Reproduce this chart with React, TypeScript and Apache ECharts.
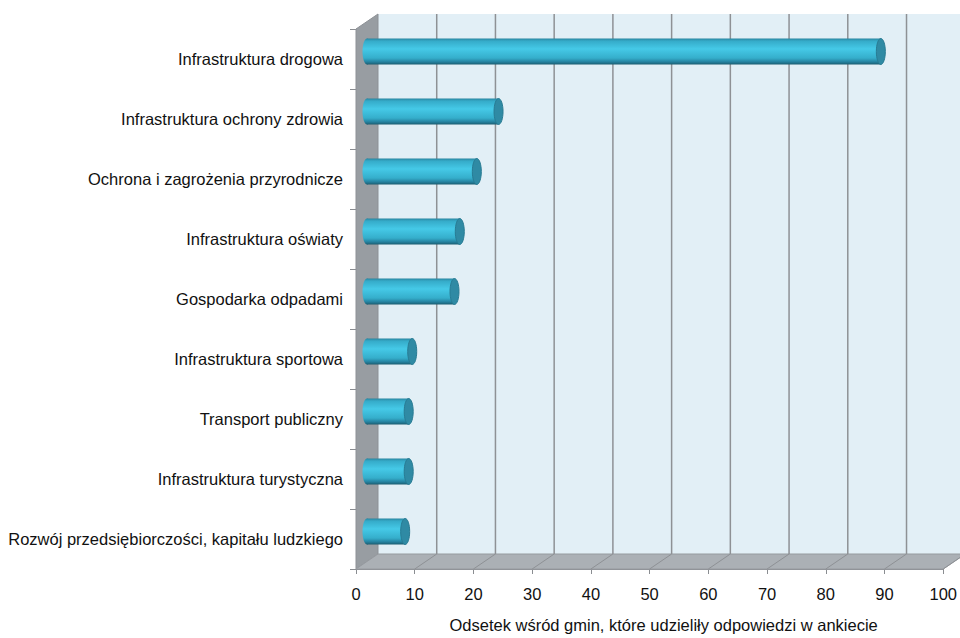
import React, { useEffect, useRef } from "react";
import * as echarts from "echarts";

const categories = [
  "Infrastruktura drogowa",
  "Infrastruktura ochrony zdrowia",
  "Ochrona i zagrożenia przyrodnicze",
  "Infrastruktura oświaty",
  "Gospodarka odpadami",
  "Infrastruktura sportowa",
  "Transport publiczny",
  "Infrastruktura turystyczna",
  "Rozwój przedsiębiorczości, kapitału ludzkiego",
];
const values = [87.5, 22.4, 18.7, 15.8, 14.9, 7.7, 7.1, 7.1, 6.5];
const xTicks = [0, 10, 20, 30, 40, 50, 60, 70, 80, 90, 100];
const axisTitle = "Odsetek wśród gmin, które udzieliły odpowiedzi w ankiecie";

const DX = 22;
const DY = -15;

export default function App() {
  const ref = useRef<HTMLDivElement>(null);
  useEffect(() => {
    if (!ref.current) return;
    const chart = echarts.init(ref.current, undefined, { renderer: "svg" });
    const font = "'Liberation Sans', Arial, sans-serif";

    const frameItem = (params: any, api: any) => {
      const cs = params.coordSys;
      const x0 = cs.x;
      const y0 = cs.y;
      const x1 = cs.x + cs.width;
      const y1 = cs.y + cs.height;
      const children: any[] = [];
      children.push({
        type: "rect",
        shape: { x: x0 + DX, y: y0 + DY, width: cs.width, height: cs.height },
        style: { fill: "#e2eff6", stroke: null },
      });
      children.push({
        type: "polygon",
        shape: { points: [[x0, y0], [x0 + DX, y0 + DY], [x0 + DX, y1 + DY], [x0, y1]] },
        style: { fill: "#989da2", stroke: "#8d9196", lineWidth: 1 },
      });
      children.push({
        type: "polygon",
        shape: { points: [[x0, y1], [x0 + DX, y1 + DY], [x1 + DX, y1 + DY], [x1, y1]] },
        style: { fill: "#abb0b5", stroke: "#969a9f", lineWidth: 1 },
      });
      xTicks.forEach((v) => {
        if (v === 0) return;
        const px = api.coord([v, 0])[0];
        if (v < 100) {
          children.push({
            type: "line",
            shape: { x1: px + DX, y1: y0 + DY, x2: px + DX, y2: y1 + DY },
            style: { stroke: "#8e9195", lineWidth: 1.5 },
          });
        }
        children.push({
          type: "line",
          shape: { x1: px, y1: y1, x2: px + DX, y2: y1 + DY },
          style: { stroke: "#8e9195", lineWidth: 1 },
        });
      });
      return { type: "group", children };
    };

    const barItem = (params: any, api: any) => {
      const idx = api.value(1);
      const val = api.value(0);
      const start = api.coord([0, idx]);
      const end = api.coord([val, idx]);
      const h = 26;
      const cx0 = start[0] + DX / 2;
      const cx1 = end[0] + DX / 2;
      const cy = start[1] + DY / 2;
      const rx = 4.5;
      const grad = new echarts.graphic.LinearGradient(0, 0, 0, 1, [
        { offset: 0, color: "#2a86a0" },
        { offset: 0.1, color: "#35abc9" },
        { offset: 0.4, color: "#45c9e7" },
        { offset: 0.75, color: "#35aecb" },
        { offset: 0.9, color: "#2582a0" },
        { offset: 1, color: "#1b5d70" },
      ]);
      return {
        type: "group",
        children: [
          { type: "ellipse", shape: { cx: cx0, cy, rx, ry: h / 2 }, style: { fill: grad } },
          {
            type: "rect",
            shape: { x: cx0, y: cy - h / 2, width: cx1 - cx0, height: h },
            style: { fill: grad },
          },
          {
            type: "ellipse",
            shape: { cx: cx1, cy, rx, ry: h / 2 },
            style: { fill: "#2f8aa4", stroke: "#287b93", lineWidth: 1 },
          },
        ],
      };
    };

    chart.setOption({
      animation: false,
      backgroundColor: "#ffffff",
      grid: { left: 356, width: 588, top: 29, height: 548, containLabel: false },
      xAxis: {
        type: "value",
        min: 0,
        max: 100,
        interval: 10,
        splitLine: { show: false },
        axisLine: { show: true, lineStyle: { color: "#8a8d91", width: 1 } },
        axisTick: { show: true, length: 5, lineStyle: { color: "#8a8d91" } },
        axisLabel: { color: "#111", fontSize: 16.5, fontFamily: font, margin: 16 },
        name: axisTitle,
        nameLocation: "middle",
        nameGap: 47,
        nameTextStyle: { color: "#111", fontSize: 16.5, fontFamily: font, padding: [0, 0, 0, 28] },
      },
      yAxis: {
        type: "category",
        inverse: true,
        data: categories,
        axisLine: { show: true, lineStyle: { color: "#8a8d91" } },
        axisTick: { show: true, length: 6, lineStyle: { color: "#8a8d91" } },
        axisLabel: { color: "#111", fontSize: 16.5, fontFamily: font, margin: 13 },
        splitLine: { show: false },
      },
      series: [
        {
          type: "custom",
          renderItem: frameItem,
          data: [[0, 0]],
          encode: { x: 0, y: 1 },
          silent: true,
          z: 1,
        },
        {
          type: "custom",
          renderItem: barItem,
          data: values.map((v, i) => [v, i]),
          encode: { x: 0, y: 1 },
          z: 3,
        },
      ],
    });
    return () => chart.dispose();
  }, []);
  return (
    <div ref={ref} style={{ position: "fixed", left: 0, top: 0, width: 960, height: 638 }} />
  );
}
